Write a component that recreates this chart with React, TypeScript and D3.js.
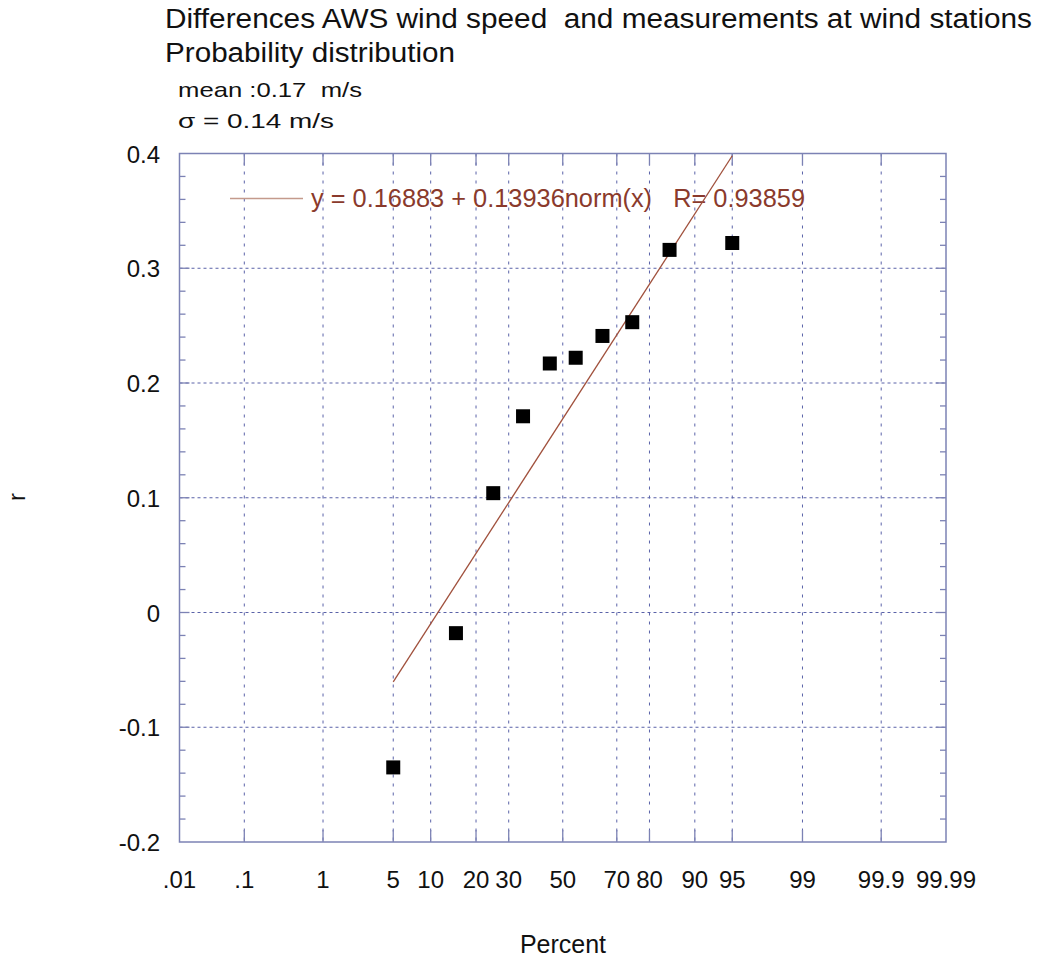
import React from "react";
import * as d3 from "d3";

const tickPercents = [0.01, 0.1, 1, 5, 10, 20, 30, 50, 70, 80, 90, 95, 99, 99.9, 99.99];
const tickLabels = [".01", ".1", "1", "5", "10", "20", "30", "50", "70", "80", "90", "95", "99", "99.9", "99.99"];
const pointPercents = [5, 15, 25, 35, 45, 55, 65, 75, 85, 95];
const pointValues = [-0.135, -0.018, 0.104, 0.171, 0.217, 0.222, 0.241, 0.253, 0.316, 0.322];
const yTicks = [-0.2, -0.1, 0, 0.1, 0.2, 0.3, 0.4];
const yTickLabels = ["-0.2", "-0.1", "0", "0.1", "0.2", "0.3", "0.4"];
const fitIntercept = 0.16883;
const fitSlope = 0.13936;
const fitRange = [5, 95];
const titleLines = ["Differences AWS wind speed  and measurements at wind stations", "Probability distribution"];
const noteLines = ["mean :0.17  m/s", "\u03c3 = 0.14 m/s"];
const legendText = "y = 0.16883 + 0.13936norm(x)   R= 0.93859";

// inverse normal CDF (Acklam)
function normInv(p: number): number {
  const a = [-3.969683028665376e1, 2.209460984245205e2, -2.759285104469687e2, 1.38357751867269e2, -3.066479806614716e1, 2.506628277459239];
  const b = [-5.447609879822406e1, 1.615858368580409e2, -1.556989798598866e2, 6.680131188771972e1, -1.328068155288572e1];
  const c = [-7.784894002430293e-3, -3.223964580411365e-1, -2.400758277161838, -2.549732539343734, 4.374664141464968, 2.938163982698783];
  const dd = [7.784695709041462e-3, 3.224671290700398e-1, 2.445134137142996, 3.754408661907416];
  const pl = 0.02425;
  let q: number, r: number;
  if (p < pl) {
    q = Math.sqrt(-2 * Math.log(p));
    return (((((c[0] * q + c[1]) * q + c[2]) * q + c[3]) * q + c[4]) * q + c[5]) / ((((dd[0] * q + dd[1]) * q + dd[2]) * q + dd[3]) * q + 1);
  } else if (p <= 1 - pl) {
    q = p - 0.5;
    r = q * q;
    return ((((((a[0] * r + a[1]) * r + a[2]) * r + a[3]) * r + a[4]) * r + a[5]) * q) / (((((b[0] * r + b[1]) * r + b[2]) * r + b[3]) * r + b[4]) * r + 1);
  } else {
    q = Math.sqrt(-2 * Math.log(1 - p));
    return -(((((c[0] * q + c[1]) * q + c[2]) * q + c[3]) * q + c[4]) * q + c[5]) / ((((dd[0] * q + dd[1]) * q + dd[2]) * q + dd[3]) * q + 1);
  }
}

export default function App() {
  const W = 1038, H = 961;
  const left = 179.5, right = 946, top = 153.5, bottom = 842;
  const zmax = normInv(0.9999);
  const x = d3.scaleLinear().domain([-zmax, zmax]).range([left, right]);
  const xp = (p: number) => x(normInv(p / 100));
  const y = d3.scaleLinear().domain([-0.2, 0.4]).range([bottom, top]);
  const axisColor = "#7c82b4";
  const gridColor = "#5a62a8";
  const font = "Arial, 'Liberation Sans', Helvetica, sans-serif";
  const minorTicks = d3.range(-0.2, 0.4001, 0.02).filter((v) => Math.abs(Math.round(v * 10) - v * 10) > 1e-6);
  const fitPath = d3.line<number>()
    .x((p) => xp(p))
    .y((p) => y(fitIntercept + fitSlope * normInv(p / 100)))(fitRange);
  const sq = 14;
  const titleWidths = [867, 290];
  const noteWidths = [184, 156];
  const pre = { whiteSpace: "pre" as const };

  return (
    <svg width={W} height={H} style={{ display: "block", position: "absolute", left: 0, top: 0, background: "#fff" }} fontFamily={font}>
      <rect x={0} y={0} width={W} height={H} fill="#fff" />
      {titleLines.map((t, i) => (
        <text key={t} x={165} y={28 + i * 34} fontSize={27} fill="#111" style={pre} textLength={titleWidths[i]} lengthAdjust="spacingAndGlyphs">{t}</text>
      ))}
      {noteLines.map((t, i) => (
        <text key={t} x={178} y={97 + i * 31} fontSize={21} fill="#111" style={pre} textLength={noteWidths[i]} lengthAdjust="spacingAndGlyphs">{t}</text>
      ))}
      {/* gridlines */}
      {yTicks.slice(1, -1).map((v) => (
        <line key={"hg" + v} x1={left} x2={right} y1={y(v)} y2={y(v)} stroke={gridColor} strokeWidth={1} strokeDasharray="3,3" />
      ))}
      {tickPercents.slice(1, -1).map((p) => (
        <g key={"vg" + p}>
          <line x1={xp(p)} x2={xp(p)} y1={top} y2={bottom} stroke={gridColor} strokeWidth={1} strokeDasharray="3,6" />
          <line x1={xp(p)} x2={xp(p)} y1={bottom - 12} y2={bottom} stroke={axisColor} strokeWidth={1.3} />
          <line x1={xp(p)} x2={xp(p)} y1={top} y2={top + 12} stroke={axisColor} strokeWidth={1.3} />
        </g>
      ))}
      {minorTicks.map((v) => (
        <g key={"mt" + v.toFixed(2)}>
          <line x1={left} x2={left + 6} y1={y(v)} y2={y(v)} stroke={axisColor} strokeWidth={1.3} />
          <line x1={right - 6} x2={right} y1={y(v)} y2={y(v)} stroke={axisColor} strokeWidth={1.3} />
        </g>
      ))}
      {yTicks.slice(1, -1).map((v) => (
        <g key={"mj" + v}>
          <line x1={left} x2={left + 10} y1={y(v)} y2={y(v)} stroke={axisColor} strokeWidth={1.3} />
          <line x1={right - 10} x2={right} y1={y(v)} y2={y(v)} stroke={axisColor} strokeWidth={1.3} />
        </g>
      ))}
      <rect x={left} y={top} width={right - left} height={bottom - top} fill="none" stroke={axisColor} strokeWidth={1.5} />
      {/* y labels */}
      {yTicks.map((v, i) => (
        <text key={"yl" + v} x={160} y={y(v) + 9} fontSize={24} textAnchor="end" fill="#111">{yTickLabels[i]}</text>
      ))}
      {/* x labels */}
      {tickPercents.map((p, i) => (
        <text key={"xl" + p} x={xp(p)} y={888} fontSize={24} textAnchor="middle" fill="#111">{tickLabels[i]}</text>
      ))}
      <text x={563} y={953} fontSize={25} textAnchor="middle" fill="#111">Percent</text>
      <text transform={`translate(25,497) rotate(-90)`} fontSize={24} textAnchor="middle" fill="#111">r</text>
      {/* legend */}
      <line x1={230} x2={303} y1={198.5} y2={198.5} stroke="#c49a8c" strokeWidth={1.5} />
      <text x={311} y={207} fontSize={25} fill="#8a3a2c" style={pre} textLength={494} lengthAdjust="spacingAndGlyphs">{legendText}</text>
      {/* fit line */}
      <path d={fitPath || ""} fill="none" stroke="#a0503c" strokeWidth={1.3} />
      {/* points */}
      {pointPercents.map((p, i) => (
        <rect key={"pt" + p} x={xp(p) - sq / 2} y={y(pointValues[i]) - sq / 2} width={sq} height={sq} fill="#000" />
      ))}
    </svg>
  );
}
